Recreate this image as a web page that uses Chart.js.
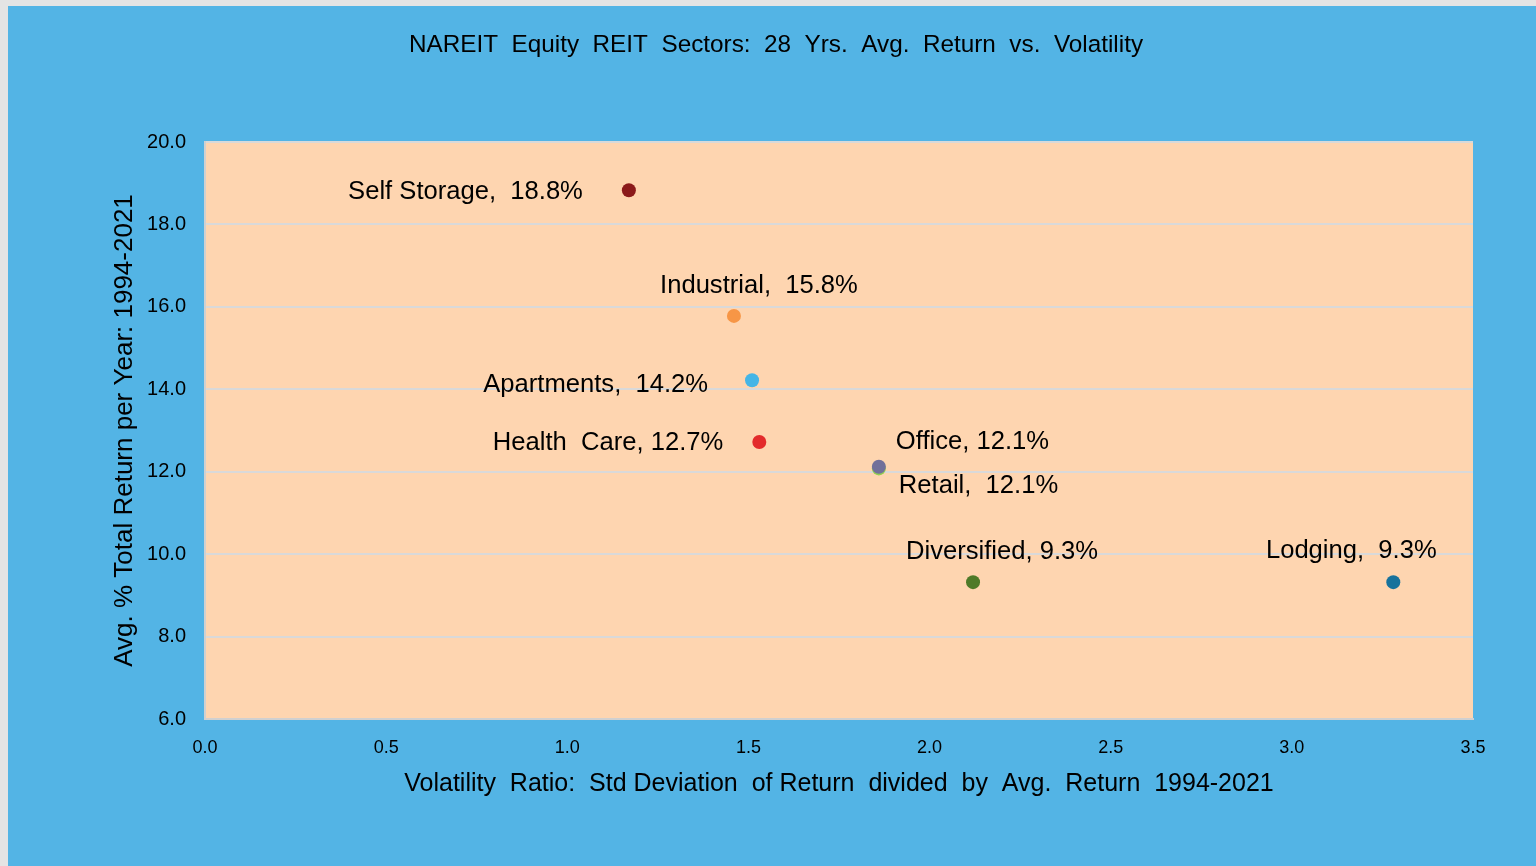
<!DOCTYPE html>
<html>
<head>
<meta charset="utf-8">
<title>NAREIT Equity REIT Sectors</title>
<script src="https://cdn.jsdelivr.net/npm/chart.js@4/dist/chart.umd.min.js"></script>
<style>
    html, body { margin: 0; padding: 0; background: #e4e4e4; overflow: hidden; }
    #wrap { position: absolute; left: 8px; top: 6px; width: 1528px; height: 860px; border-top: 1px solid #c8c8c8; border-left: 1px solid #c8c8c8; box-sizing: border-box; }
    #wrap canvas { position: absolute; left: -1px; top: -1px; }
</style>
</head>
<body>
<div id="wrap"><canvas id="reitChart" width="1528" height="860"></canvas></div>
<script>
// Data
const sectors = ['Self Storage', 'Industrial', 'Apartments', 'Health Care', 'Retail', 'Office', 'Diversified', 'Lodging'];
const volatility = [1.17, 1.46, 1.51, 1.53, 1.86, 1.86, 2.12, 3.28];
const avgReturn = [18.83, 15.78, 14.22, 12.72, 12.08, 12.12, 9.32, 9.32];
const labelText = ['Self Storage,  18.8%', 'Industrial,  15.8%', 'Apartments,  14.2%', 'Health  Care, 12.7%', 'Retail,  12.1%', 'Office, 12.1%', 'Diversified, 9.3%', 'Lodging,  9.3%'];
const xTicks = [0, 0.5, 1, 1.5, 2, 2.5, 3, 3.5];
const yTicks = [6, 8, 10, 12, 14, 16, 18, 20];

// Styling
const pointColors = ['#8b1a1a', '#f79646', '#45b5e6', '#e32b2b', '#92d050', '#72709a', '#4e7a28', '#17729c'];
// where each data label sits relative to its point: [align, dx, dy]
const labelPlacement = [
    ['right', -46, 2],
    ['center', 25, -30],
    ['right', -44, 5],
    ['right', -36, 1],
    ['left', 20, 18],
    ['left', 17, -25],
    ['center', 29, -30],
    ['center', -42, -31]
];

document.addEventListener('DOMContentLoaded', () => {
    Chart.defaults.font.family = "'Liberation Sans', Arial, sans-serif";
    Chart.defaults.color = '#000';

    // backgrounds, title and point labels
    const decor = {
        id: 'decor',
        beforeDraw(chart) {
            const { ctx, chartArea: a, width, height } = chart;
            ctx.save();
            ctx.fillStyle = '#53b4e5';
            ctx.fillRect(0, 0, width, height);
            ctx.fillStyle = '#fed5b0';
            ctx.fillRect(a.left, a.top, a.right - a.left, a.bottom - a.top);
            ctx.restore();
        },
        afterDraw(chart) {
            const { ctx } = chart;
            ctx.save();
            ctx.fillStyle = '#000';
            ctx.textBaseline = 'middle';
            ctx.textAlign = 'center';
            ctx.font = "24.3px 'Liberation Sans', Arial, sans-serif";
            ctx.fillText('NAREIT  Equity  REIT  Sectors:  28  Yrs.  Avg.  Return  vs.  Volatility', 768, 39);

            ctx.font = "25.6px 'Liberation Sans', Arial, sans-serif";
            const meta = chart.getDatasetMeta(0);
            meta.data.forEach((pt, i) => {
                const [align, dx, dy] = labelPlacement[i];
                ctx.textAlign = align;
                ctx.fillText(labelText[i], pt.x + dx, pt.y + dy);
            });
            ctx.restore();
        }
    };

    const ctx = document.getElementById('reitChart').getContext('2d');
    const reitChart = new Chart(ctx, {
        type: 'scatter',
        data: {
            datasets: [{
                label: 'Sectors',
                data: sectors.map((s, i) => ({ x: volatility[i], y: avgReturn[i] })),
                backgroundColor: pointColors,
                borderWidth: 0,
                pointRadius: 7,
                pointHoverRadius: 7
            }]
        },
        options: {
            responsive: false,
            animation: false,
            layout: { padding: { top: 136, right: 63, left: 0, bottom: 0 } },
            plugins: {
                legend: { display: false },
                tooltip: { enabled: false }
            },
            scales: {
                x: {
                    type: 'linear',
                    min: 0,
                    max: 3.5,
                    afterBuildTicks: (scale) => { scale.ticks = xTicks.map(v => ({ value: v })); },
                    afterFit: (scale) => { scale.height = 147; },
                    grid: { display: false, drawTicks: false },
                    border: { display: true, color: '#d0d0d0', width: 2 },
                    ticks: {
                        padding: 18,
                        font: { size: 18 },
                        callback: (v) => Number(v).toFixed(1)
                    },
                    title: {
                        display: true,
                        text: 'Volatility  Ratio:  Std Deviation  of Return  divided  by  Avg.  Return  1994-2021',
                        font: { size: 25 },
                        padding: { top: 0, bottom: 67 }
                    }
                },
                y: {
                    type: 'linear',
                    min: 6,
                    max: 20,
                    afterBuildTicks: (scale) => { scale.ticks = yTicks.map(v => ({ value: v })); },
                    afterFit: (scale) => { scale.width = 197; },
                    grid: { color: '#d9d9d9', lineWidth: 2, drawTicks: false },
                    border: { display: true, color: '#d0d0d0', width: 2 },
                    ticks: {
                        padding: 19,
                        font: { size: 20 },
                        callback: (v) => Number(v).toFixed(1)
                    },
                    title: {
                        display: true,
                        text: 'Avg. % Total Return per Year: 1994-2021',
                        font: { size: 26 },
                        padding: { top: 101, bottom: 0 }
                    }
                }
            }
        },
        plugins: [decor]
    });
});
</script>
</body>
</html>
